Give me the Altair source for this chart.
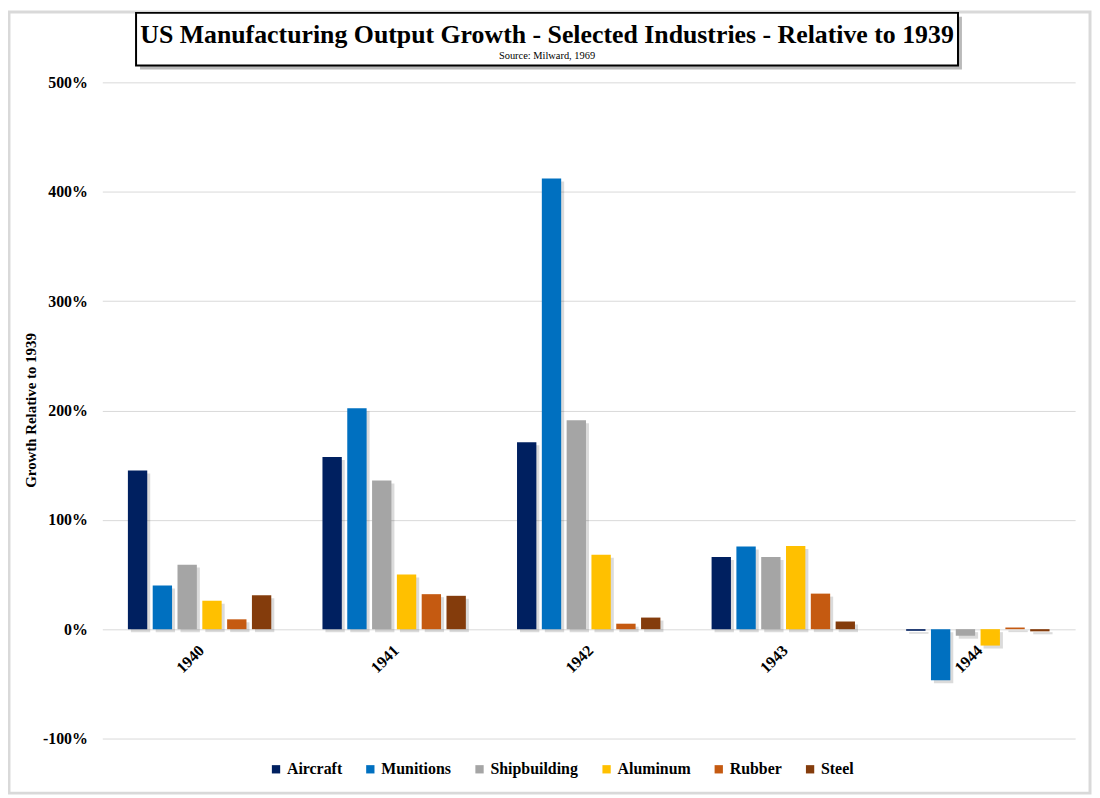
import altair as alt
import pandas as pd

years = ["1940", "1941", "1942", "1943", "1944"]
industries = ["Aircraft", "Munitions", "Shipbuilding", "Aluminum", "Rubber", "Steel"]
colors = ["#002060", "#0070C0", "#A5A5A5", "#FFC000", "#C55A11", "#843C0C"]

aircraft = [1.45, 1.575, 1.71, 0.66, -0.015]
munitions = [0.40, 2.02, 4.12, 0.755, -0.468]
shipbuilding = [0.59, 1.36, 1.91, 0.66, -0.06]
aluminum = [0.26, 0.50, 0.68, 0.76, -0.15]
rubber = [0.09, 0.32, 0.05, 0.325, 0.015]
steel = [0.31, 0.305, 0.106, 0.07, -0.02]

y_ticks = [-1, 0, 1, 2, 3, 4, 5]
title_text = ["US Manufacturing Output Growth - Selected Industries - Relative to 1939"]
subtitle_text = ["Source: Milward,  1969"]
y_title = "Growth Relative to 1939"

series = [aircraft, munitions, shipbuilding, aluminum, rubber, steel]
rows = []
for ind, vals in zip(industries, series):
    for yr, v in zip(years, vals):
        rows.append({"Year": yr, "Industry": ind, "Growth": v})
df = pd.DataFrame(rows)

FONT = "Liberation Serif"
W, H = 980, 661

x_enc = alt.X("Year:N", sort=years, axis=None,
              scale=alt.Scale(paddingInner=0.235, paddingOuter=0.1175))
xo_enc = alt.XOffset("Industry:N", sort=industries,
                     scale=alt.Scale(domain=industries, paddingInner=0.22, paddingOuter=0.11))
xo_shadow = alt.XOffset("Industry:N", sort=industries,
                        scale=alt.Scale(domain=industries, paddingInner=0.22, paddingOuter=0.11,
                                        range=[3, 153]))
y_enc = alt.Y("Growth:Q",
              scale=alt.Scale(domain=[-1, 5], nice=False, zero=False),
              axis=alt.Axis(values=y_ticks, labelExpr="round(datum.value*100) + '%'",
                            grid=True, gridColor="#d9d9d9", gridWidth=1,
                            domain=False, ticks=False, labelPadding=15,
                            labelFont=FONT, labelFontSize=16, labelFontWeight="bold",
                            labelColor="#000000",
                            title=y_title, titleFont=FONT, titleFontSize=15,
                            titleFontWeight="bold", titleColor="#000000",
                            titleX=-72, titleY=330, titleAngle=270,
                            titleAlign="center", titleBaseline="middle"))

base = alt.Chart(df)

shadow = base.mark_bar(color="#000000", opacity=0.14,
                       yOffset=3, y2Offset=3).encode(
    x=x_enc, xOffset=xo_shadow, y=y_enc, y2=alt.datum(0))

bars = base.mark_bar().encode(
    x=x_enc, xOffset=xo_enc, y=y_enc, y2=alt.datum(0),
    color=alt.Color("Industry:N", sort=industries,
                    scale=alt.Scale(domain=industries, range=colors),
                    legend=alt.Legend(title=None, orient="none", direction="horizontal",
                                      legendX=167, legendY=684,
                                      symbolType="square", symbolSize=70,
                                      symbolStrokeWidth=0, labelOffset=3,
                                      columnPadding=20,
                                      labelFont=FONT, labelFontSize=16,
                                      labelFontWeight="bold", labelColor="#000000")))

labels = alt.Chart(pd.DataFrame({"Year": years})).mark_text(
    font=FONT, fontSize=16, fontWeight="bold", angle=315, align="right",
    baseline="middle", dx=-12, dy=15, color="#000000").encode(
    x=alt.X("Year:N", sort=years), y=alt.datum(0), text="Year:N")

tdf = pd.DataFrame({"t": title_text, "s": subtitle_text})
tbase = alt.Chart(tdf)

frame = tbase.mark_rect(fill=None, stroke="#d9d9d9", strokeWidth=3).encode(
    x=alt.value(-94), x2=alt.value(995), y=alt.value(-71), y2=alt.value(716))

box_shadow = tbase.mark_rect(color="#8c8c8c", opacity=0.6).encode(
    x=alt.value(38), x2=alt.value(866), y=alt.value(-66), y2=alt.value(-13))
box = tbase.mark_rect(fill="#ffffff", stroke="#000000", strokeWidth=2).encode(
    x=alt.value(34), x2=alt.value(862), y=alt.value(-70), y2=alt.value(-17))
title = tbase.mark_text(font=FONT, fontSize=26, fontWeight="bold", align="center",
                        baseline="alphabetic", color="#000000").encode(
    x=alt.value(448), y=alt.value(-40), text="t:N")
subtitle = tbase.mark_text(font=FONT, fontSize=10.5, align="center",
                           baseline="alphabetic", color="#000000").encode(
    x=alt.value(448), y=alt.value(-24), text="s:N")

chart = alt.layer(frame, box_shadow, box, title, subtitle, shadow, bars, labels).resolve_scale(
    xOffset="independent"
).properties(
    width=W, height=H,
    autosize=alt.AutoSizeParams(type="none"),
    padding={"left": 95, "top": 72, "right": 17, "bottom": 57},
    background="#ffffff",
).configure_view(stroke=None)

chart.save("out.html", embed_options={"renderer": "svg", "actions": False})
